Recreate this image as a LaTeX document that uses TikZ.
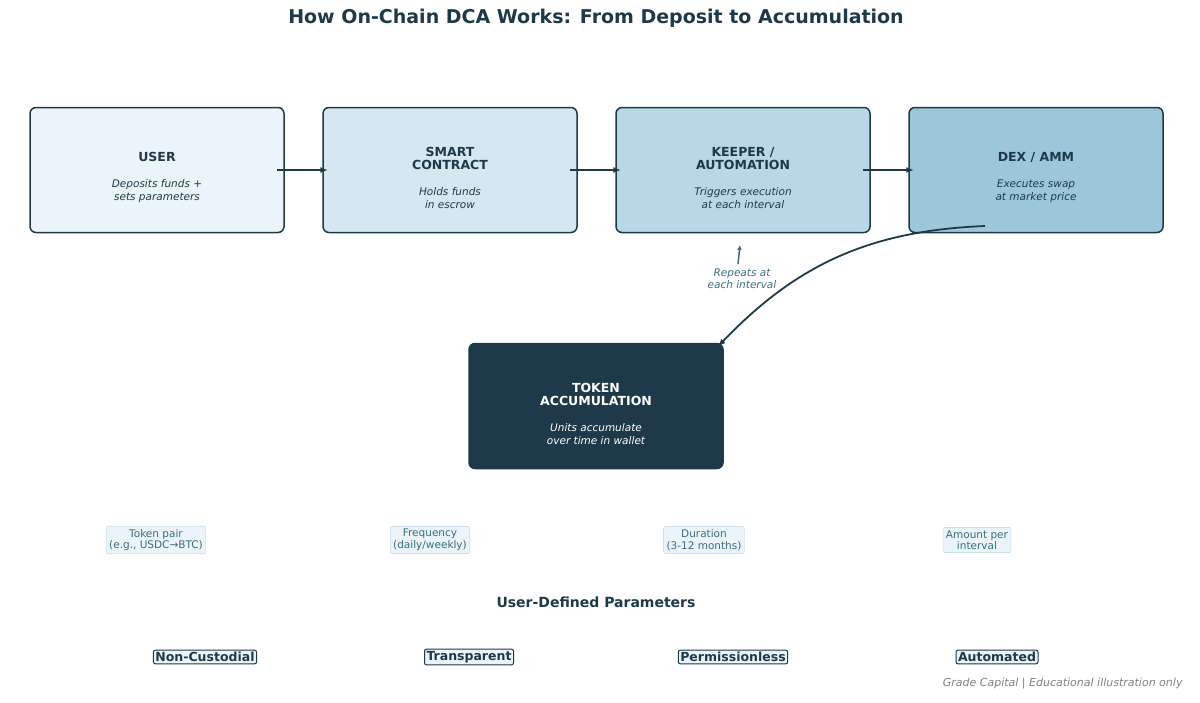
\documentclass[tikz,border=0pt]{standalone}
\usepackage{fontspec}
\setmainfont{DejaVu Sans}
\usetikzlibrary{positioning,arrows.meta}
\definecolor{navy}{HTML}{1E3A4A}
\definecolor{teal}{HTML}{3A6E80}
\definecolor{cuser}{HTML}{EAF4FA}
\definecolor{csmart}{HTML}{D5E7F0}
\definecolor{ckeeper}{HTML}{B8D8E8}
\definecolor{cdex}{HTML}{9CC7D9}
\definecolor{pline}{HTML}{B5D5E0}
\newcommand{\subt}[1]{{\fontsize{10.5}{12.5}\selectfont\mdseries\itshape #1}}
\newcommand{\stagetxt}[3]{\rule{0pt}{25pt}#1\\[12pt]\subt{#2}\\\subt{#3}}
\begin{document}
\begin{tikzpicture}[x=1pt,y=-1pt]
\tikzstyle{stage}=[rectangle, rounded corners=6pt, draw=navy, line width=1.5pt, minimum width=254pt, minimum height=125pt, align=center, text=navy, font=\fontsize{12.5}{13.5}\selectfont\bfseries]
\tikzstyle{param}=[rectangle, rounded corners=2pt, draw=pline, fill=cuser, align=center, text=teal, inner sep=3pt, font=\fontsize{10.5}{11.5}\selectfont]
\tikzstyle{badge}=[rectangle, rounded corners=2pt, draw=navy, fill=cuser, text=navy, inner sep=2pt, line width=1pt, font=\fontsize{12.5}{13}\selectfont\bfseries]
\tikzstyle{connect}=[-{Latex[length=8pt,width=6pt]}, line width=2pt, draw=navy]

	\useasboundingbox (0,0) rectangle (1200,702);
	\node[text=navy, font=\fontsize{19}{21}\selectfont\bfseries] (title) at (596,18) {How On-Chain DCA Works: From Deposit to Accumulation};

	\node[stage, fill=cuser] (user) at (157,170) {\stagetxt{USER}{Deposits funds +}{sets parameters}};
	\node[stage, fill=csmart] (smart) at (450,170) {\stagetxt{SMART\\CONTRACT}{Holds funds}{in escrow}};
	\node[stage, fill=ckeeper] (keeper) at (743,170) {\stagetxt{KEEPER /\\AUTOMATION}{Triggers execution}{at each interval}};
	\node[stage, fill=cdex] (dex) at (1036,170) {\stagetxt{DEX / AMM}{Executes swap}{at market price}};
	\node[stage, fill=navy, draw=navy, text=white] (token) at (596,406) {\stagetxt{TOKEN\\ACCUMULATION}{Units accumulate}{over time in wallet}};

	\coordinate (dexout) at (985,226);
	\coordinate (loopa) at (738,264);
	\coordinate (loopb) at (740,245);
	\node[text=teal, align=center, font=\fontsize{10.5}{12}\selectfont\itshape] (repeat) at (742,279) {Repeats at\\each interval};

	\coordinate (u0) at ([xshift=-8pt]user.east);
	\coordinate (s0) at ([xshift=-8pt]smart.east);
	\coordinate (k0) at ([xshift=-8pt]keeper.east);
	\draw[connect] (u0) -- ([xshift=6pt]smart.west);
	\draw[connect] (s0) -- ([xshift=6pt]keeper.west);
	\draw[connect] (k0) -- ([xshift=6pt]dex.west);
	\draw[connect, line width=1.8pt] (dexout) to[bend right=22] ([xshift=-6pt,yshift=-4pt]token.north east);
	\draw[connect, draw=teal, line width=1.5pt, -{Latex[length=5pt,width=5pt]}] (loopa) -- (loopb);

	\node[param] (pair) at (156,540) {Token pair\\(e.g., USDC→BTC)};
	\node[param] (freq) at (430,540) {Frequency\\(daily/weekly)};
	\node[param] (dur) at (704,540) {Duration\\(3-12 months)};
	\node[param] (amt) at (977,540) {Amount per\\interval};
	\node[text=navy, font=\fontsize{14}{16}\selectfont\bfseries] (params) at (596,602) {User-Defined Parameters};

	\node[badge] (nc) at (205,657) {Non-Custodial};
	\node[badge] (tr) at (469,657) {Transparent};
	\node[badge] (pl) at (733,657) {Permissionless};
	\node[badge] (au) at (997,657) {Automated};
	\node[anchor=east, text=gray, font=\fontsize{11}{12}\selectfont\itshape] (foot) at (1186,684) {Grade Capital | Educational illustration only};
\end{tikzpicture}
\end{document}
